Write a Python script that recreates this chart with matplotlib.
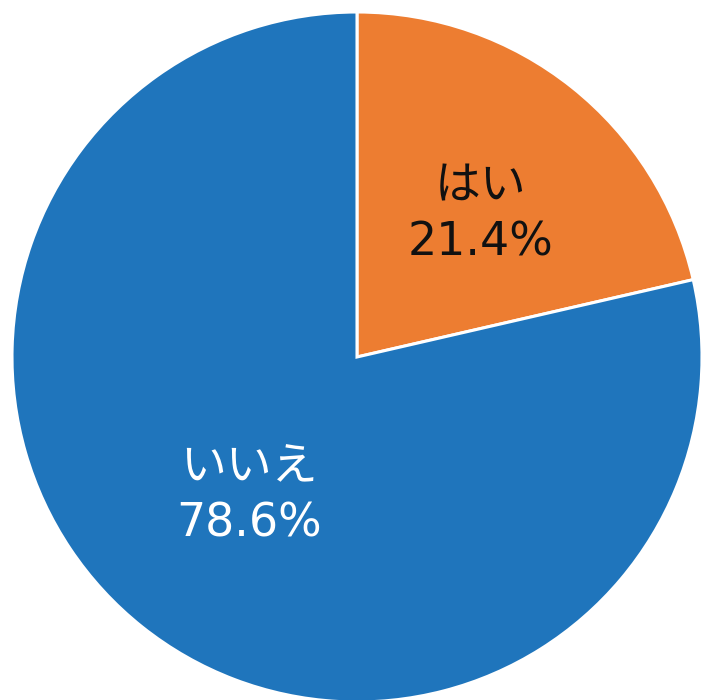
import matplotlib.pyplot as plt
import numpy as np

# wide latin digits from DejaVu, kana falls through to Noto CJK
plt.rcParams['font.family'] = ['DejaVu Sans', 'Noto Sans CJK JP']

labels = ['はい', 'いいえ']
values = [21.4, 78.6]
colors = ['#ED7D31', '#1F75BC']
text_colors = ['#111111', 'white']
label_r = [0.546, 0.51]
label_dang = [-2.6, 0.5]

fig = plt.figure(figsize=(7.02, 7.00), dpi=100)
ax = fig.add_axes([0, 0, 1, 1])

wedges, _ = ax.pie(values, colors=colors, startangle=90, counterclock=False,
                   radius=1.0, wedgeprops=dict(edgecolor='white', linewidth=2.2))

# place labels inside each wedge
for w, lab, val, tc, r, da in zip(wedges, labels, values, text_colors, label_r, label_dang):
    ang = np.deg2rad((w.theta1 + w.theta2) / 2 + da)
    x, y = r * np.cos(ang), r * np.sin(ang)
    ax.text(x, y, f"{lab}\n{val:.1f}%", ha='center', va='center', fontsize=33,
            color=tc, linespacing=1.32)

ax.set_xlim(-357 / 345, (702 - 357) / 345)
ax.set_ylim(-343 / 345, 357 / 345)
ax.set_aspect('auto')
ax.axis('off')

plt.savefig('out.png', dpi=100)
plt.close()
